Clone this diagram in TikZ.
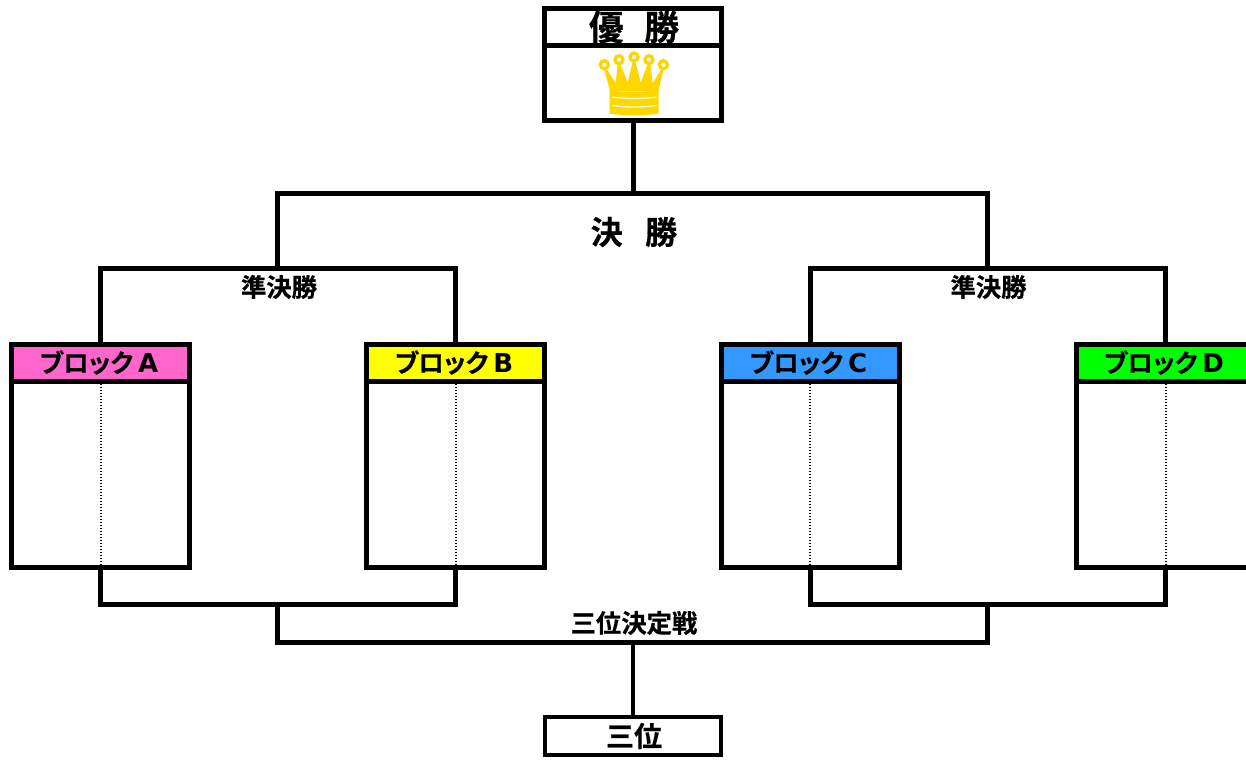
\documentclass[tikz,border=0pt]{standalone}
\usepackage{fontspec}
\newfontfamily\cjk[FakeBold=0.5]{Noto Sans CJK JP Bold}
\newfontfamily\cjkp[FakeBold=0.5,RawFeature=+palt]{Noto Sans CJK JP Bold}
\newfontfamily\lat{DejaVu Sans Bold}
\definecolor{gold}{HTML}{FFD700}
\definecolor{pinkA}{HTML}{FF66CC}
\definecolor{yellowB}{HTML}{FFFF00}
\definecolor{blueC}{HTML}{3399FF}
\definecolor{greenD}{HTML}{00FF00}
\tikzset{
  line/.style={line width=3.75pt,line cap=butt,line join=miter},
  frame/.style={draw,line width=3.75pt,minimum width=133.5pt,outer sep=0pt,inner sep=0pt,anchor=north},
  label/.style={inner sep=0pt,font=\cjk},
  tick/.style={line width=1.5pt,dash pattern=on 1.125pt off 1.125pt},
}
\begin{document}
\begin{tikzpicture}[x=0.75pt,y=-0.75pt]
\clip (0,0) rectangle (1246,762);
\fill[white] (0,0) rectangle (1246,762);
% champion box
\node[frame,minimum width=132.6pt,minimum height=84pt] (champ) at (633,8.3) {};
\node[frame,minimum width=132.6pt,minimum height=28pt] (champHead) at (633,8.3) {};
\node[label] (champText) at (634,27) {\fontsize{26}{26}\selectfont 優\hspace{0.6em}勝};
% crown
\fill[gold] (610,91.3) -- (604,68) -- (606,68) -- (615.7,83.3) -- (617.7,64) -- (620.3,64) -- (627.7,82.7) -- (632.7,61.3) -- (635.3,61.3) -- (640.7,82.7) -- (647.7,64) -- (650.3,64) -- (652.7,83.3) -- (662,68) -- (664,68) -- (658.3,91.3) -- cycle;
\fill[gold] (609.7,90) .. controls (625,92.5) and (643,92.5) .. (658.7,90) -- (658.7,113.5) .. controls (643,116) and (625,116) .. (609.7,113.5) -- cycle;
\foreach \cx/\cy in {604.3/64.7,619/59.7,634/57,649/59.7,663.3/64.7}
  \draw[gold,line width=2.5pt,fill=white] (\cx,\cy) circle[radius=4];
\draw[white,line width=1pt,opacity=.85] (612,97) .. controls (625,99) and (643,99) .. (656.5,97);
\draw[white,line width=1pt,opacity=.85] (612,105.5) .. controls (625,107.5) and (643,107.5) .. (656.5,105.5);
% blocks
\foreach \nm/\cx/\col/\letter in {A/100.5/pinkA/A,B/455.5/yellowB/B,C/810/blueC/C,D/1165.5/greenD/D}{
  \node[frame,minimum height=167.6pt] (block\nm) at (\cx,344.5) {};
  \node[frame,minimum height=27.4pt,fill=\col] (head\nm) at (\cx,344.5) {};
  \node[label] (title\nm) at (\cx-1.5,362.5) {\cjkp\fontsize{19}{19}\selectfont ブロック\hspace{0.2em}{\lat\fontsize{19.5}{19.5}\selectfont \letter}};
  \draw[tick] (head\nm.south) ++(0,2.5) -- (block\nm.south);
}
% junctions
\coordinate (finalJ) at (633,194);
\coordinate (semiL) at (277.5,269);
\coordinate (semiR) at (987.5,269);
\coordinate (lowL) at (277.5,604.5);
\coordinate (lowR) at (987.5,604.5);
\coordinate (thirdJ) at (633,642.5);
% third box
\node[frame,line width=3.2pt,minimum width=132.5pt,minimum height=28.5pt] (third) at (633,717.3) {};
\node[label] (thirdText) at (634,736) {\fontsize{21}{21}\selectfont 三位};
% connectors
\draw[line] (champ.south) -- (finalJ);
\draw[line] (semiL) |- (finalJ) -| (semiR);
\draw[line] (blockA.north) |- (semiL) -| (blockB.north);
\draw[line] (blockC.north) |- (semiR) -| (blockD.north);
\draw[line] (blockA.south) |- (lowL) -| (blockB.south);
\draw[line] (blockC.south) |- (lowR) -| (blockD.south);
\draw[line] (lowL) |- (thirdJ) -| (lowR);
\draw[line,line width=3.2pt] (thirdJ) -- (third.north);
% labels
\node[label] (finalText) at (634,232) {\fontsize{24}{24}\selectfont 決\hspace{0.7em}勝};
\node[label] (semiTextL) at (279,287) {\fontsize{19}{19}\selectfont 準決勝};
\node[label] (semiTextR) at (988.5,287) {\fontsize{19}{19}\selectfont 準決勝};
\node[label] (thirdMatch) at (634,623) {\fontsize{19}{19}\selectfont 三位決定戦};
\end{tikzpicture}
\end{document}
